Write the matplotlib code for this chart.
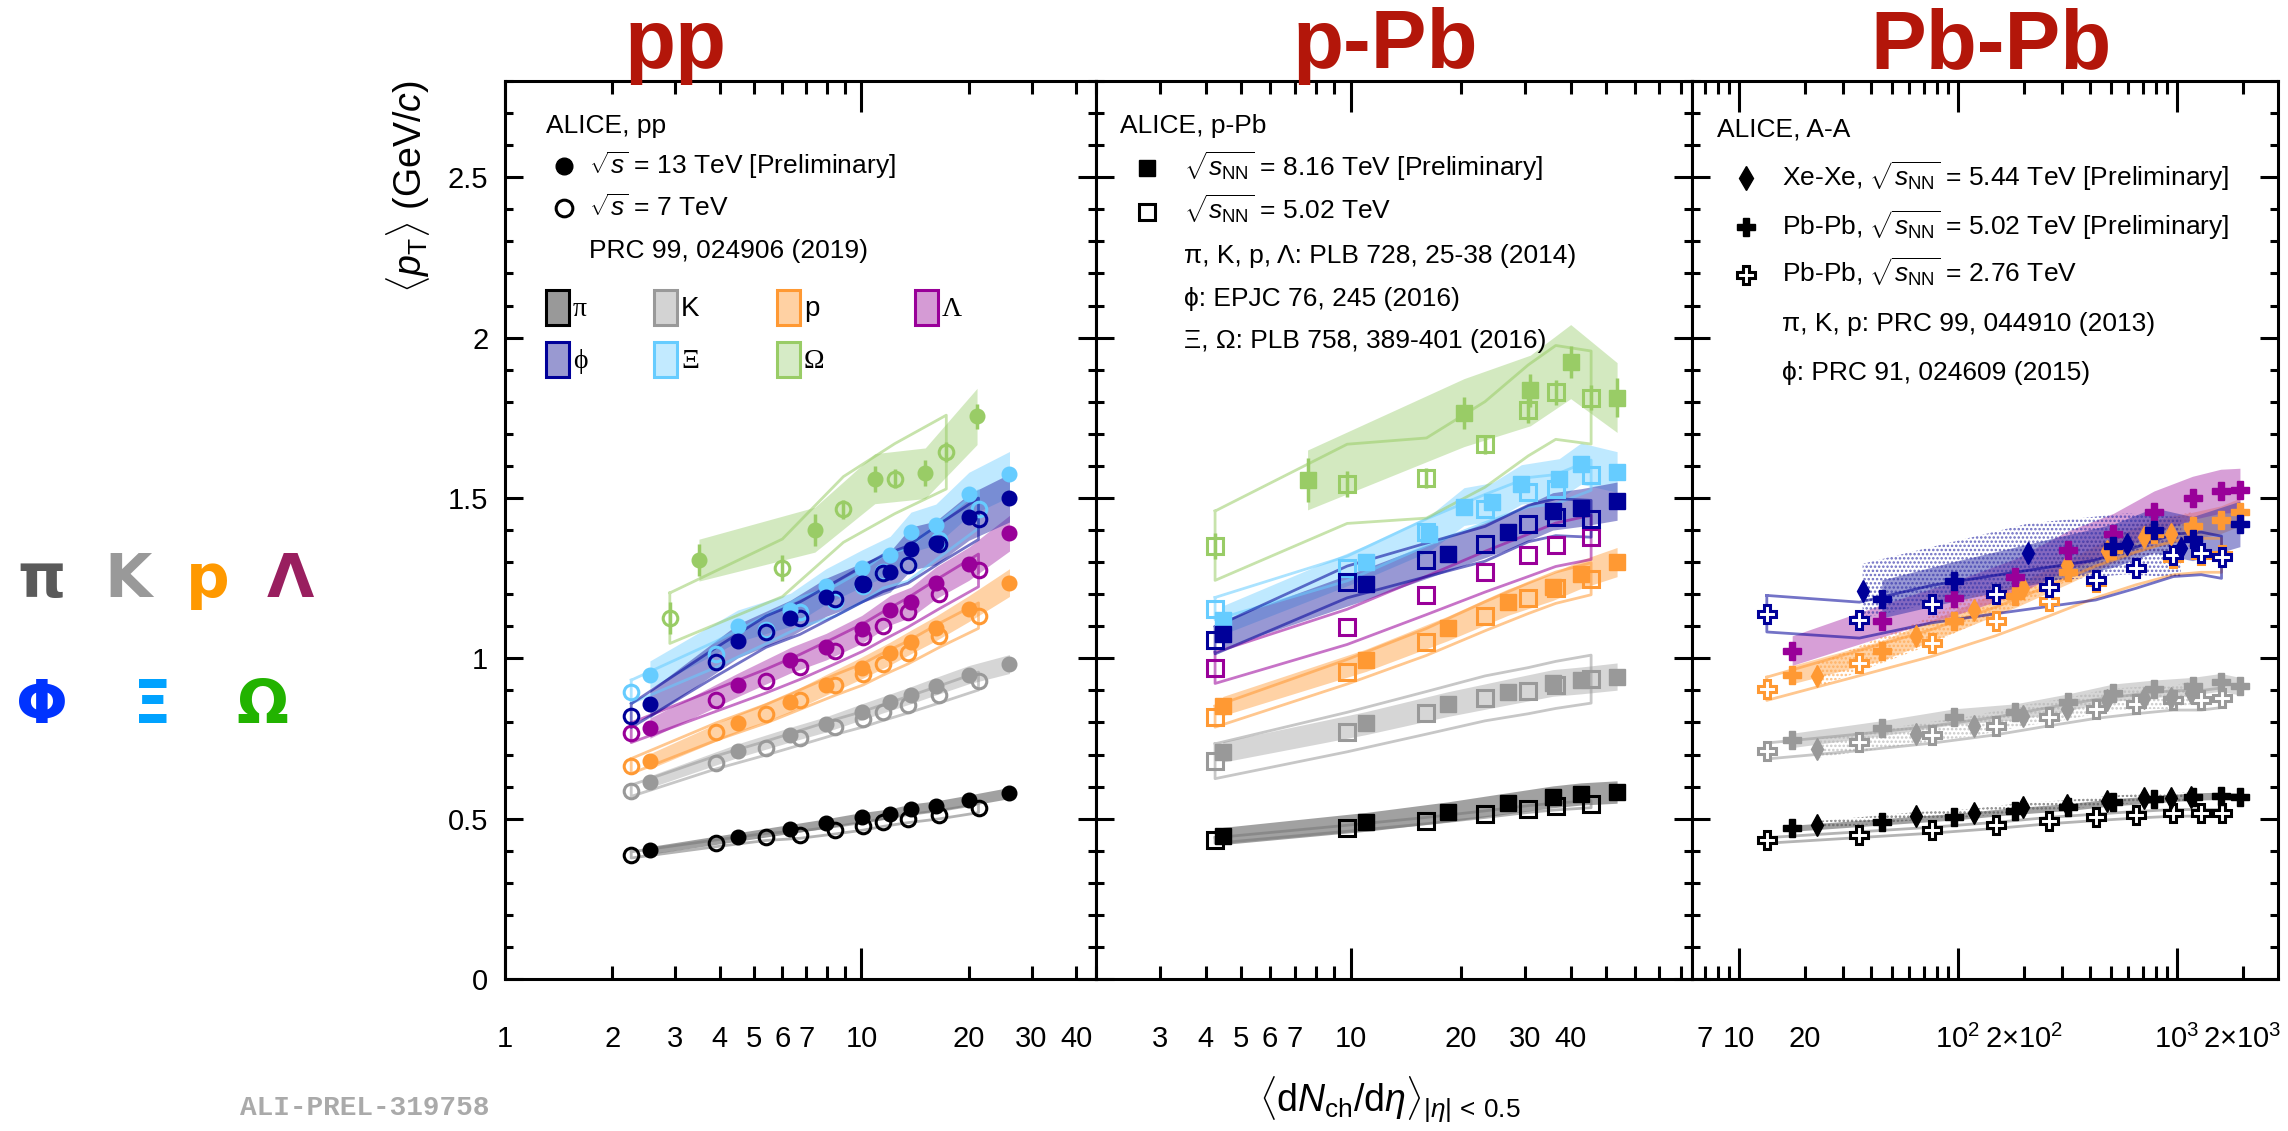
import numpy as np
import matplotlib
matplotlib.use('Agg')
import matplotlib.pyplot as plt
from matplotlib.patches import Rectangle
from matplotlib.lines import Line2D
from matplotlib.ticker import LogLocator, FuncFormatter, MultipleLocator

plt.rcParams['font.family'] = ['Liberation Sans', 'DejaVu Sans']
plt.rcParams['mathtext.fontset'] = 'custom'
plt.rcParams['mathtext.rm'] = 'Liberation Sans'
plt.rcParams['mathtext.it'] = 'Liberation Sans:italic'
plt.rcParams['mathtext.bf'] = 'Liberation Sans:bold'
plt.rcParams['axes.linewidth'] = 2.2
plt.rcParams['hatch.linewidth'] = 1.2

# ---------------- data ----------------
# pp
x_pp13 = [2.55, 4.50, 6.32, 7.95, 10.02, 12.04, 13.77, 16.17, 20.02, 26.02]
x_pp7 = [2.26, 3.90, 5.40, 6.72, 8.45, 10.1, 11.5, 13.5, 16.5, 21.3]
x_pp13_om = [3.5, 7.4, 10.9, 15.1, 21.1]
x_pp7_om = [2.9, 6.0, 8.9, 12.4, 17.3]
pp13 = {
    'pi': [0.401, 0.443, 0.468, 0.485, 0.504, 0.515, 0.530, 0.539, 0.557, 0.580],
    'K': [0.615, 0.712, 0.762, 0.794, 0.833, 0.863, 0.885, 0.913, 0.949, 0.982],
    'p': [0.679, 0.798, 0.863, 0.917, 0.970, 1.015, 1.051, 1.093, 1.155, 1.236],
    'L': [0.782, 0.917, 0.994, 1.036, 1.090, 1.150, 1.175, 1.235, 1.295, 1.390],
    'Xi': [0.949, 1.101, 1.151, 1.224, 1.280, 1.321, 1.393, 1.417, 1.512, 1.574],
    'phi': [0.857, 1.054, 1.125, 1.190, 1.235, 1.270, 1.342, 1.360, 1.440, 1.500],
    'Om': [1.306, 1.401, 1.560, 1.577, 1.754],
}
pp7 = {
    'pi': [0.387, 0.423, 0.443, 0.450, 0.464, 0.476, 0.488, 0.500, 0.512, 0.532],
    'K': [0.587, 0.675, 0.720, 0.752, 0.786, 0.810, 0.831, 0.855, 0.887, 0.929],
    'p': [0.664, 0.771, 0.827, 0.871, 0.917, 0.950, 0.982, 1.018, 1.071, 1.133],
    'L': [0.768, 0.869, 0.929, 0.973, 1.024, 1.065, 1.101, 1.143, 1.202, 1.274],
    'Xi': [0.896, 1.012, 1.089, 1.143, 1.179, 1.226, 1.270, 1.292, 1.369, 1.464],
    'phi': [0.821, 0.988, 1.083, 1.125, 1.185, 1.232, 1.265, 1.292, 1.357, 1.435],
    'Om': [1.125, 1.282, 1.464, 1.560, 1.643],
}
sys_pp13 = {'pi': 0.03, 'K': 0.03, 'p': 0.035, 'L': 0.04, 'Xi': 0.045, 'phi': 0.05, 'Om': 0.05}
sys_pp7 = {'pi': 0.025, 'K': 0.03, 'p': 0.035, 'L': 0.04, 'Xi': 0.04, 'phi': 0.045, 'Om': 0.07}
stat_pp13_om = [0.05, 0.05, 0.04, 0.04, 0.04]
stat_pp7_om = [0.05, 0.04, 0.03, 0.03, 0.03]

# p-Pb
x_pPb8 = [4.45, 11.0, 18.4, 26.9, 35.7, 42.7, 53.6]
x_pPb8_xi = [4.45, 11.0, 16.4, 20.4, 24.4, 29.3, 37.2, 42.7, 53.6]
x_pPb8_om = [7.6, 20.4, 31.0, 40.0, 53.6]
x_pPb5 = [4.24, 9.76, 16.1, 23.3, 30.6, 36.4, 45.5]
pPb8 = {
    'pi': [0.446, 0.490, 0.521, 0.548, 0.568, 0.577, 0.583],
    'K': [0.708, 0.798, 0.857, 0.895, 0.923, 0.931, 0.943],
    'p': [0.851, 0.994, 1.093, 1.175, 1.223, 1.262, 1.300],
    'Xi': [1.119, 1.301, 1.389, 1.473, 1.488, 1.542, 1.560, 1.607, 1.581],
    'phi': [1.075, 1.232, 1.325, 1.395, 1.458, 1.470, 1.490],
    'Om': [1.556, 1.766, 1.835, 1.925, 1.813],
}
pPb5 = {
    'pi': [0.432, 0.470, 0.494, 0.514, 0.530, 0.538, 0.545],
    'K': [0.679, 0.770, 0.830, 0.875, 0.899, 0.917, 0.935],
    'p': [0.818, 0.958, 1.051, 1.131, 1.187, 1.220, 1.248],
    'L': [0.970, 1.098, 1.196, 1.270, 1.321, 1.354, 1.377],
    'Xi': [1.155, 1.280, 1.393, 1.467, 1.518, 1.527, 1.571],
    'phi': [1.056, 1.238, 1.307, 1.357, 1.420, 1.440, 1.435],
    'Om': [1.351, 1.544, 1.562, 1.667, 1.773, 1.829, 1.813],
}
sys_pPb8 = {'pi': 0.06, 'K': 0.045, 'p': 0.035, 'Xi': 0.04, 'phi': 0.04, 'Om': 0.06}
sys_pPb5 = {'pi': 0.02, 'K': 0.08, 'p': 0.04, 'L': 0.05, 'Xi': 0.03, 'phi': 0.04, 'Om': 0.08}
stat_pPb8_om = [0.07, 0.05, 0.05, 0.05, 0.06]
stat_pPb5_om = [0.04, 0.04, 0.03, 0.03, 0.04, 0.04, 0.04]

# A-A
x_PbPb5 = [17.5, 44.9, 96.3, 183, 318, 512, 786, 1180, 1587, 1943]
x_PbPb5_phi = [44.9, 96.3, 512, 786, 1180, 1943]
x_PbPb276 = [13.4, 35.5, 76, 149, 261, 426, 649, 966, 1294, 1601]
x_XeXe = [22.6, 64.7, 118, 198, 315, 478, 706, 939, 1167]
x_XeXe_phi = [36.7, 209, 592, 1042]
PbPb5 = {
    'pi': [0.470, 0.490, 0.506, 0.524, 0.536, 0.551, 0.560, 0.569, 0.571, 0.568],
    'K': [0.744, 0.782, 0.818, 0.833, 0.863, 0.893, 0.905, 0.913, 0.925, 0.913],
    'p': [0.949, 1.024, 1.115, 1.194, 1.270, 1.339, 1.389, 1.413, 1.432, 1.456],
    'L': [1.024, 1.117, 1.187, 1.254, 1.337, 1.389, 1.456, 1.500, 1.521, 1.524],
    'phi': [1.185, 1.240, 1.351, 1.399, 1.373, 1.419],
}
PbPb276 = {
    'pi': [0.432, 0.450, 0.464, 0.479, 0.494, 0.504, 0.512, 0.518, 0.518, 0.518],
    'K': [0.711, 0.738, 0.762, 0.789, 0.818, 0.842, 0.857, 0.869, 0.869, 0.877],
    'p': [0.905, 0.985, 1.048, 1.115, 1.179, 1.238, 1.280, 1.313, 1.321, 1.321],
    'phi': [1.139, 1.119, 1.169, 1.199, 1.223, 1.244, 1.282, 1.321, 1.327, 1.315],
}
XeXe = {
    'pi': [0.480, 0.508, 0.518, 0.536, 0.544, 0.556, 0.565, 0.565, 0.568],
    'K': [0.718, 0.765, 0.789, 0.821, 0.842, 0.869, 0.877, 0.877, 0.893],
    'p': [0.946, 1.068, 1.151, 1.220, 1.292, 1.336, 1.377, 1.389, 1.399],
    'phi': [1.210, 1.327, 1.357, 1.345],
}
sys_PbPb5 = {'pi': 0.02, 'K': 0.03, 'p': 0.03, 'L': 0.045, 'phi': 0.05}
sys_PbPb276 = {'pi': 0.02, 'K': 0.035, 'p': 0.04, 'phi': 0.05}
sys_XeXe = {'pi': 0.025, 'K': 0.04, 'p': 0.04, 'phi': 0.07}

# ---------------- styles ----------------
MCOL = {'pi': '#000000', 'K': '#999999', 'p': '#FF9933', 'L': '#990099',
        'phi': '#000099', 'Xi': '#66CCFF', 'Om': '#99CC66'}
BCOL = {'pi': '#555555', 'K': '#B5B5B5', 'p': '#FFA64D', 'L': '#B040B0',
        'phi': '#3333AA', 'Xi': '#80D4FF', 'Om': '#A8D483'}
BALPHA = {'pi': 0.55, 'K': 0.55, 'p': 0.5, 'L': 0.5, 'phi': 0.5, 'Xi': 0.5, 'Om': 0.5}
ORDER = ['pi', 'K', 'p', 'L', 'Xi', 'phi', 'Om']

W, H = 2288, 1131
fig = plt.figure(figsize=(W / 100, H / 100), dpi=100)


def fx(x):
    return x / W


def fy(y):
    return 1 - y / H


def band(ax, x, y, rel, sp):
    x = np.asarray(x, float)
    y = np.asarray(y, float)
    ax.fill_between(x, y * (1 - rel), y * (1 + rel), color=BCOL[sp], alpha=BALPHA[sp], lw=0, zorder=2)


def outline(ax, x, y, rel, sp):
    x = np.asarray(x, float)
    y = np.asarray(y, float)
    lo, hi = y * (1 - rel), y * (1 + rel)
    ax.plot(np.r_[x, x[::-1], x[:1]], np.r_[hi, lo[::-1], hi[:1]],
            color=MCOL[sp] if sp != 'pi' else '#777777', lw=2, alpha=0.55, zorder=3)


def dotted(ax, x, y, rel, sp):
    x = np.asarray(x, float)
    y = np.asarray(y, float)
    ax.fill_between(x, y * (1 - rel), y * (1 + rel), facecolor='none',
                    edgecolor=BCOL[sp], hatch='....', lw=0, alpha=0.7, zorder=2)


def points(ax, x, y, sp, marker, ms, filled, yerr=None):
    c = MCOL[sp]
    if yerr is not None:
        ax.errorbar(x, y, yerr=yerr, fmt='none', ecolor=c, elinewidth=2.5, capsize=0, zorder=4)
    if filled:
        ax.plot(x, y, ls='none', marker=marker, ms=ms, color=c, mec=c, zorder=6)
    else:
        mfc = 'white' if marker == 'P' else 'none'
        ax.plot(x, y, ls='none', marker=marker, ms=ms, mfc=mfc, mec=c, mew=2.2, zorder=5)


boxes = [(505, 1096), (1096, 1692), (1692, 2278)]
top, bot = 81, 979
xlims = [(1, 45.5), (2, 86), (6.1, 2900)]
xlabels = [
    {1: '1', 2: '2', 3: '3', 4: '4', 5: '5', 6: '6', 7: '7', 10: '10', 20: '20', 30: '30', 40: '40'},
    {3: '3', 4: '4', 5: '5', 6: '6', 7: '7', 10: '10', 20: '20', 30: '30', 40: '40'},
    {7: '7', 10: '10', 20: '20', 100: r'$10^2$', 200: r'$2{\times}10^2$',
     1000: r'$10^3$', 2000: r'$2{\times}10^3$'},
]
axs = []
for i, (l, r) in enumerate(boxes):
    ax = fig.add_axes([fx(l), fy(bot), (r - l) / W, (bot - top) / H])
    ax.set_xscale('log')
    ax.set_xlim(*xlims[i])
    ax.set_ylim(0, 2.8)
    labs = xlabels[i]
    f = FuncFormatter(lambda v, pos, labs=labs: labs.get(int(round(v)), ''))
    ax.xaxis.set_major_locator(LogLocator(base=10, numticks=10))
    ax.xaxis.set_minor_locator(LogLocator(base=10, subs=np.arange(2, 10), numticks=30))
    ax.xaxis.set_major_formatter(f)
    ax.xaxis.set_minor_formatter(f)
    ax.yaxis.set_major_locator(MultipleLocator(0.5))
    ax.yaxis.set_minor_locator(MultipleLocator(0.1))
    ax.yaxis.set_major_formatter(FuncFormatter(lambda v, pos: '%g' % v))
    ax.tick_params(axis='x', which='major', direction='in', length=22, width=2.2,
                   top=True, bottom=True, labelsize=21, pad=33)
    ax.tick_params(axis='x', which='minor', direction='in', length=9.5, width=2.2,
                   top=True, bottom=True, labelsize=21, pad=33)
    ax.tick_params(axis='y', which='major', direction='in', length=13, width=2.2,
                   left=True, right=True, labelsize=21, pad=12, labelleft=(i == 0))
    ax.tick_params(axis='y', which='minor', direction='in', length=6, width=2.2,
                   left=True, right=True)
    axs.append(ax)

# ---------------- pp ----------------
ax = axs[0]
for sp in ORDER:
    x13 = x_pp13_om if sp == 'Om' else x_pp13
    x7 = x_pp7_om if sp == 'Om' else x_pp7
    band(ax, x13, pp13[sp], sys_pp13[sp], sp)
    outline(ax, x7, pp7[sp], sys_pp7[sp], sp)
for sp in ORDER:
    x13 = x_pp13_om if sp == 'Om' else x_pp13
    x7 = x_pp7_om if sp == 'Om' else x_pp7
    points(ax, x7, pp7[sp], sp, 'o', 10.5, False, stat_pp7_om if sp == 'Om' else None)
    points(ax, x13, pp13[sp], sp, 'o', 10.5, True, stat_pp13_om if sp == 'Om' else None)

# ---------------- p-Pb ----------------
ax = axs[1]
for sp in ORDER:
    if sp in pPb8:
        x8 = {'Xi': x_pPb8_xi, 'Om': x_pPb8_om}.get(sp, x_pPb8)
        band(ax, x8, pPb8[sp], sys_pPb8[sp], sp)
    outline(ax, x_pPb5, pPb5[sp], sys_pPb5[sp], sp)
for sp in ORDER:
    points(ax, x_pPb5, pPb5[sp], sp, 's', 11, False, stat_pPb5_om if sp == 'Om' else None)
    if sp in pPb8:
        x8 = {'Xi': x_pPb8_xi, 'Om': x_pPb8_om}.get(sp, x_pPb8)
        points(ax, x8, pPb8[sp], sp, 's', 11, True, stat_pPb8_om if sp == 'Om' else None)

# ---------------- A-A ----------------
ax = axs[2]
for sp in ['pi', 'K', 'p', 'L', 'phi']:
    x5 = x_PbPb5_phi if sp == 'phi' else x_PbPb5
    band(ax, x5, PbPb5[sp], sys_PbPb5[sp], sp)
    if sp in PbPb276:
        outline(ax, x_PbPb276, PbPb276[sp], sys_PbPb276[sp], sp)
    if sp in XeXe:
        xx = x_XeXe_phi if sp == 'phi' else x_XeXe
        dotted(ax, xx, XeXe[sp], sys_XeXe[sp], sp)
for sp in ['pi', 'K', 'p', 'L', 'phi']:
    if sp in PbPb276:
        points(ax, x_PbPb276, PbPb276[sp], sp, 'P', 13, False)
    if sp in XeXe:
        xx = x_XeXe_phi if sp == 'phi' else x_XeXe
        points(ax, xx, XeXe[sp], sp, 'd', 11, True)
    x5 = x_PbPb5_phi if sp == 'phi' else x_PbPb5
    points(ax, x5, PbPb5[sp], sp, 'P', 13, True)

# ---------------- labels ----------------
fig.text(fx(408), fy(80), r'$\langle p_{\rm T}\rangle$ (GeV/$c$)', rotation=90,
         ha='center', va='top', fontsize=27)
fig.text(fx(1390), fy(1100), r'$\langle{\rm d}N_{\rm ch}/{\rm d}\eta\rangle_{|\eta|\,<\,0.5}$',
         ha='center', va='center', fontsize=27)
fig.text(fx(240), fy(1108), 'ALI-PREL-319758', family='Liberation Mono', weight='bold',
         color='#AAAAAA', fontsize=20, ha='left', va='center')

tcol = '#B3160A'
for name, xc in [('pp', 675), ('p-Pb', 1385), ('Pb-Pb', 1991)]:
    fig.text(fx(xc), fy(46), name, fontsize=60, fontweight='bold', color=tcol,
             ha='center', va='center')

# species key on the left
for s, x, y, c in [('π', 42, 597, '#5A5A5A'), ('K', 128, 597, '#999999'),
                   ('p', 208, 597, '#FF9900'), ('Λ', 290, 597, '#991F5F'),
                   ('Φ', 42, 723, '#0033FF'), ('Ξ', 152, 723, '#00A2FF'),
                   ('Ω', 262, 723, '#22B300')]:
    fig.text(fx(x), fy(y), s, family='DejaVu Sans', weight='bold', fontsize=44,
             color=c, ha='center', va='baseline')


def ftext(x, y, s, **kw):
    fig.text(fx(x), fy(y + 8), s, fontsize=19, ha='left', va='baseline', **kw)


def fmark(x, y, **kw):
    fig.add_artist(Line2D([fx(x)], [fy(y)], transform=fig.transFigure, ls='none', **kw))


# pp legend
ftext(546, 125, 'ALICE, pp')
fmark(564, 166, marker='o', ms=12, color='k')
ftext(589, 166, r'$\sqrt{s}$ = 13 TeV [Preliminary]')
fmark(564, 208, marker='o', ms=12, mfc='none', mec='k', mew=2.2)
ftext(589, 208, r'$\sqrt{s}$ = 7 TeV')
ftext(589, 250, 'PRC 99, 024906 (2019)')
key_boxes = [('pi', 'π', 546, 290, '#999999', '#000000'),
             ('K', 'K', 654, 290, '#D3D3D3', '#999999'),
             ('p', 'p', 777, 290, '#FFD1A3', '#FF9933'),
             ('L', 'Λ', 915, 290, '#D59BD5', '#990099'),
             ('phi', 'ϕ', 546, 342, '#9999D1', '#000099'),
             ('Xi', 'Ξ', 654, 342, '#C2EAFF', '#66CCFF'),
             ('Om', 'Ω', 777, 342, '#D6EBC6', '#99CC66')]
for sp, lab, x, y, fc, ec in key_boxes:
    fig.add_artist(Rectangle((fx(x), fy(y + 35)), 23 / W, 35 / H, transform=fig.transFigure,
                             facecolor=fc, edgecolor=ec, lw=2.2))
    fam = ['Liberation Sans'] if lab in 'Kp' else ['Liberation Serif', 'DejaVu Serif']
    fig.text(fx(x + 27), fy(y + 26), lab, family=fam, fontsize=20, ha='left', va='baseline')

# p-Pb legend
ftext(1120, 125, 'ALICE, p-Pb')
fmark(1147, 168, marker='s', ms=11, color='k')
ftext(1184, 168, r'$\sqrt{s_{\rm NN}}$ = 8.16 TeV [Preliminary]')
fmark(1147, 212, marker='s', ms=11, mfc='none', mec='k', mew=2.2)
ftext(1184, 212, r'$\sqrt{s_{\rm NN}}$ = 5.02 TeV')
ftext(1184, 255, 'π, K, p, Λ: PLB 728, 25-38 (2014)')
ftext(1184, 298, 'ϕ: EPJC 76, 245 (2016)')
ftext(1184, 340, 'Ξ, Ω: PLB 758, 389-401 (2016)')

# A-A legend
ftext(1717, 128, 'ALICE, A-A')
fmark(1746, 178, marker='d', ms=12, color='k')
ftext(1782, 178, r'Xe-Xe, $\sqrt{s_{\rm NN}}$ = 5.44 TeV [Preliminary]')
fmark(1746, 227, marker='P', ms=13, color='k')
ftext(1782, 227, r'Pb-Pb, $\sqrt{s_{\rm NN}}$ = 5.02 TeV [Preliminary]')
fmark(1746, 275, marker='P', ms=13, mfc='white', mec='k', mew=2.2)
ftext(1782, 275, r'Pb-Pb, $\sqrt{s_{\rm NN}}$ = 2.76 TeV')
ftext(1782, 323, 'π, K, p: PRC 99, 044910 (2013)')
ftext(1782, 372, 'ϕ: PRC 91, 024609 (2015)')

fig.savefig('out.png', dpi=100)
